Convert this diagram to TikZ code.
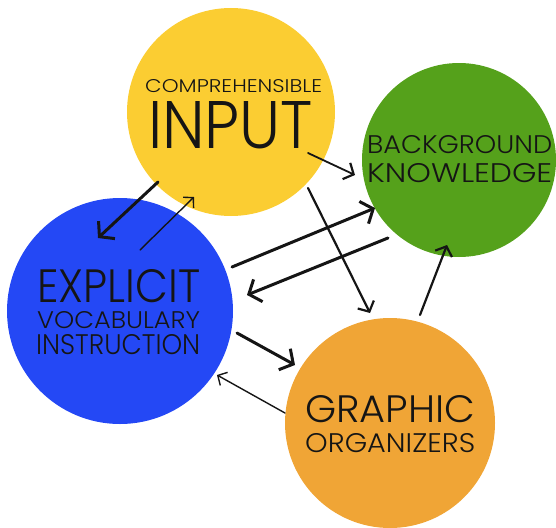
\documentclass[tikz,border=0pt]{standalone}
\usepackage{fontspec}
\usetikzlibrary{arrows.meta}
\newfontfamily\diagfont{Poppins Light}
\definecolor{cyel}{HTML}{FBCD32}
\definecolor{cgrn}{HTML}{55A11B}
\definecolor{cblu}{HTML}{2448F5}
\definecolor{corg}{HTML}{F0A536}
\definecolor{ctxt}{HTML}{151515}
\newcommand{\fitlabel}[3]{\resizebox{#1pt}{#2pt}{\diagfont #3}}
\tikzset{
  bubble/.style={circle, inner sep=0pt, draw=none},
  label text/.style={anchor=base west, inner sep=0pt, text=ctxt},
  thickarrow/.style={line width=3pt, line cap=round, ctxt, -{Straight Barb[length=10pt,width=24pt,line width=3pt]}},
  medarrow/.style={line width=2.2pt, line cap=round, ctxt, -{Straight Barb[length=8pt,width=18pt,line width=2.2pt]}},
  thinarrow/.style={line width=1.4pt, line cap=round, ctxt, -{Straight Barb[length=7pt,width=15pt,line width=1.4pt]}}
}
\begin{document}
\begin{tikzpicture}[x=1pt,y=-1pt]
\useasboundingbox (0,0) rectangle (556,527);
% circles
\node[bubble, fill=cyel, minimum size=208pt] (yel) at (231,112) {};
\node[bubble, fill=cgrn, minimum size=194pt] (grn) at (459,160) {};
\node[bubble, fill=cblu, minimum size=226pt] (blu) at (120,311) {};
\node[bubble, fill=corg, minimum size=210pt] (org) at (390,423) {};
% texts
\node[label text] (t1) at (145,92) {\fitlabel{177}{13}{COMPREHENSIBLE}};
\node[label text] (t2) at (148,148) {\fitlabel{165}{47}{INPUT}};
\node[label text] (t3) at (367,153) {\fitlabel{185}{18}{BACKGROUND}};
\node[label text] (t4) at (367,182) {\fitlabel{185}{19}{KNOWLEDGE}};
\node[label text] (t5) at (37,302) {\fitlabel{163}{33}{EXPLICIT}};
\node[label text] (t6) at (37,328) {\fitlabel{163}{17}{VOCABULARY}};
\node[label text] (t7) at (36,354) {\fitlabel{164}{20}{INSTRUCTION}};
\node[label text] (t8) at (305,422) {\fitlabel{170}{27}{GRAPHIC}};
\node[label text] (t9) at (305,452) {\fitlabel{170}{19}{ORGANIZERS}};
% arrows
\draw[thickarrow] ([shift={(-73,70)}]yel.center) -- ([shift={(-22,-73)}]blu.center);
\draw[thinarrow] ([shift={(20,-61)}]blu.center) -- ([shift={(-37,85)}]yel.center);
\draw[medarrow, line width=1.8pt] ([shift={(77,41)}]yel.center) -- ([shift={(-104,15)}]grn.center);
\draw[medarrow] ([shift={(77,76)}]yel.center) -- ([shift={(-20,-110)}]org.center);
\draw[thickarrow] ([shift={(112,-44)}]blu.center) -- ([shift={(-84,48)}]grn.center);
\draw[thickarrow] ([shift={(-71,78)}]grn.center) -- ([shift={(127,-16)}]blu.center);
\draw[thickarrow] ([shift={(117,22)}]blu.center) -- ([shift={(-95,-58)}]org.center);
\draw[thinarrow] ([shift={(-105,-10)}]org.center) -- ([shift={(97,64)}]blu.center);
\draw[medarrow] ([shift={(30,-108)}]org.center) -- ([shift={(-12,85)}]grn.center);
\end{tikzpicture}
\end{document}
